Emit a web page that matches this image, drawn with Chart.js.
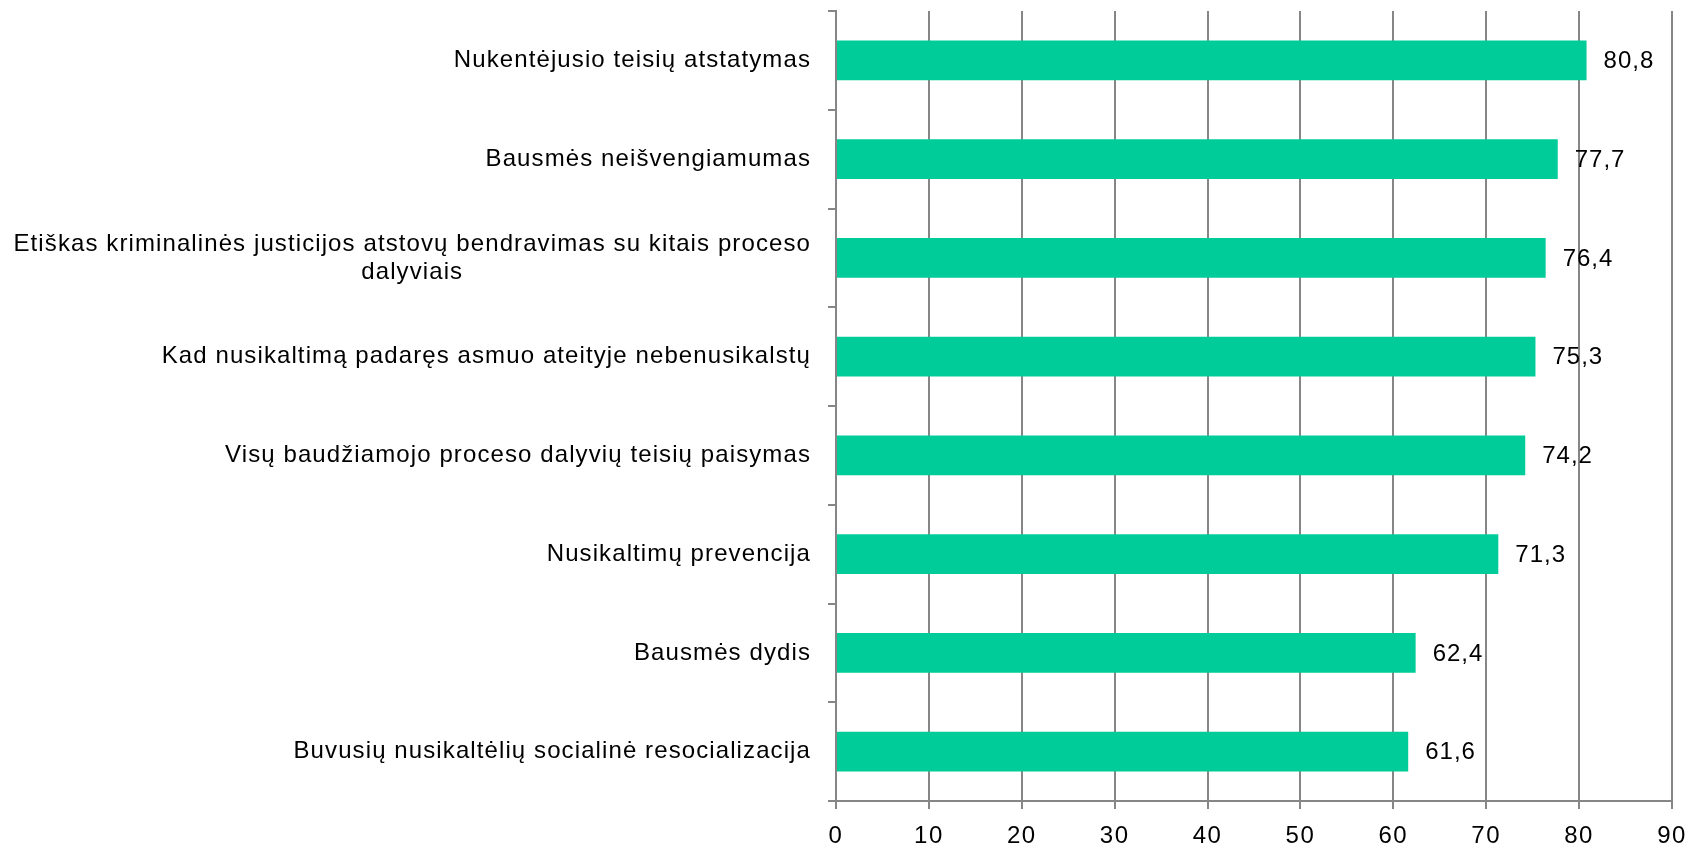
<!DOCTYPE html>
<html>
<head>
<meta charset="utf-8">
<script src="https://cdn.jsdelivr.net/npm/chart.js@4/dist/chart.umd.min.js"></script>
<style>
  html, body { margin: 0; padding: 0; background: #fff; }
  #wrap { position: relative; width: 1690px; height: 846px; }
</style>
</head>
<body>
<div id="wrap"><canvas id="chart"></canvas></div>
<script>
// Kategorijos (iš viršaus į apačią)
const categories = [
  ['Nukentėjusio teisių atstatymas'],
  ['Bausmės neišvengiamumas'],
  ['Etiškas kriminalinės justicijos atstovų bendravimas su kitais proceso', 'dalyviais'],
  ['Kad nusikaltimą padaręs asmuo ateityje nebenusikalstų'],
  ['Visų baudžiamojo proceso dalyvių teisių paisymas'],
  ['Nusikaltimų prevencija'],
  ['Bausmės dydis'],
  ['Buvusių nusikaltėlių socialinė resocializacija']
];
const values = [80.8, 77.7, 76.4, 75.3, 74.2, 71.3, 62.4, 61.6];
const xTicks = [0, 10, 20, 30, 40, 50, 60, 70, 80, 90];

const FONT = '"Liberation Sans", Arial, sans-serif';
const GRID = '#868686';

// šiek tiek praretintas tekstas, kaip Excel'yje
const spacingPlugin = {
  id: 'spacing',
  beforeDraw(chart) { chart.ctx.letterSpacing = '1.5px'; }
};

// Kategorijų pavadinimai kairėje (daugiaeilutis centruojamas)
const labelPlugin = {
  id: 'catLabels',
  afterDraw(chart) {
    const ctx = chart.ctx;
    const y = chart.scales.y;
    const right = chart.chartArea.left - 25;
    ctx.save();
    ctx.letterSpacing = '1.1px';
    ctx.font = '24px ' + FONT;
    ctx.fillStyle = '#000';
    ctx.textBaseline = 'middle';
    categories.forEach((lines, i) => {
      const cy = y.getPixelForValue(i);
      const lh = 28;
      const startY = cy - (lines.length - 1) * lh / 2;
      if (lines.length === 1) {
        ctx.textAlign = 'right';
        ctx.fillText(lines[0], right, cy);
      } else {
        const w = Math.max(...lines.map(l => ctx.measureText(l).width));
        ctx.textAlign = 'center';
        lines.forEach((l, j) => ctx.fillText(l, right - w / 2, startY + j * lh));
      }
    });
    ctx.restore();
  }
};

// Reikšmių etiketės prie stulpelių
const valuePlugin = {
  id: 'valueLabels',
  afterDatasetsDraw(chart) {
    const ctx = chart.ctx;
    const meta = chart.getDatasetMeta(0);
    ctx.save();
    ctx.letterSpacing = '1px';
    ctx.font = '24px ' + FONT;
    ctx.fillStyle = '#000';
    ctx.textAlign = 'left';
    ctx.textBaseline = 'middle';
    meta.data.forEach((bar, i) => {
      ctx.fillText(values[i].toFixed(1).replace('.', ','), bar.x + 17, bar.y + 1);
    });
    ctx.restore();
  }
};

new Chart(document.getElementById('chart'), {
  type: 'bar',
  data: {
    labels: categories.map(c => c.join(' ')),
    datasets: [{
      data: values,
      backgroundColor: '#00CC99',
      borderWidth: 0,
      categoryPercentage: 1,
      barPercentage: 0.405
    }]
  },
  options: {
    indexAxis: 'y',
    responsive: true,
    maintainAspectRatio: false,
    animation: false,
    layout: { padding: { top: 11, right: 18, left: 0, bottom: 0 } },
    plugins: { legend: { display: false }, tooltip: { enabled: false } },
    scales: {
      x: {
        min: 0,
        max: 90,
        afterBuildTicks(scale) { scale.ticks = xTicks.map(v => ({ value: v })); },
        afterFit(scale) {
          scale.height = 45;
          scale.paddingLeft = 0;
          scale.paddingRight = 0;
        },
        ticks: { font: { family: FONT, size: 24 }, color: '#000', padding: 13, maxRotation: 0 },
        grid: { color: GRID, lineWidth: 2, tickLength: 8 },
        border: { color: GRID, width: 2 }
      },
      y: {
        afterFit(scale) { scale.width = 836; },
        ticks: { display: false },
        grid: { drawOnChartArea: false, offset: true, color: GRID, lineWidth: 2, tickLength: 8 },
        border: { color: GRID, width: 2 }
      }
    }
  },
  plugins: [spacingPlugin, labelPlugin, valuePlugin]
});
</script>
</body>
</html>
